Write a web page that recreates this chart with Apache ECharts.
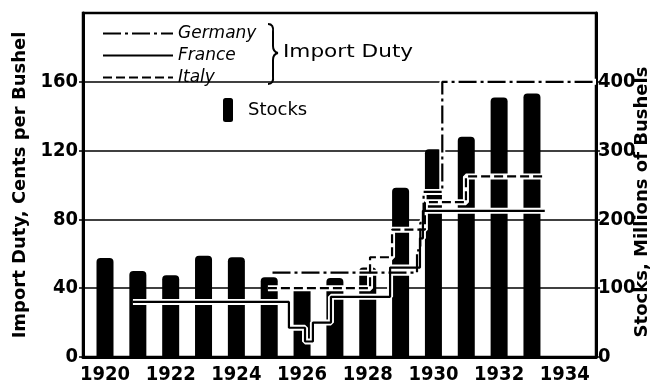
<!DOCTYPE html>
<html>
<head>
<meta charset="utf-8">
<script src="https://cdn.jsdelivr.net/npm/echarts@6/dist/echarts.min.js"></script>
<style>
  html, body { margin: 0; padding: 0; background: #fff; }
  #chart { width: 655px; height: 384px; }
</style>
</head>
<body>
<div id="chart"></div>
<script>
// Calendar-year tick labels along the bottom axis
const yearTicks = [1920, 1922, 1924, 1926, 1928, 1930, 1932, 1934];
const dutyTicks = [0, 40, 80, 120, 160];
const stockTicks = [0, 100, 200, 300, 400];

// Wheat stocks, millions of bushels
const stockYears = [1920, 1921, 1922, 1923, 1924, 1925, 1926, 1927, 1928, 1929, 1930, 1931, 1932, 1933];
const stockValues = [144, 125, 119, 147, 145, 116, 102, 115, 130, 246, 302, 320, 377, 383];

// Import duties, cents per bushel: each rate holds from its year until the next; last point closes the line
const germanyYears = [1925.1, 1929.5, 1929.6, 1929.7, 1930.27, 1934.95];
const germanyDuty  = [49, 62, 78, 96, 160, 160];
const franceYears  = [1920.85, 1925.6, 1926.09, 1926.33, 1926.88, 1928.68, 1929.59, 1929.68, 1933.39];
const franceDuty   = [32, 17, 9, 20, 35, 52, 69, 85, 85];
const italyYears   = [1924.96, 1928.07, 1928.74, 1929.74, 1930.99, 1933.39];
const italyDuty    = [40, 58, 74, 90, 105, 105];

const pairs = (xs, ys) => xs.map((x, i) => [x, ys[i]]);

const numFont = '"Liberation Sans Narrow", "DejaVu Sans Condensed", "DejaVu Sans", sans-serif';
const textFont = '"DejaVu Sans", sans-serif';

const dashDot = [18, 4, 3, 4];
const dashed = [9, 4];

function casing(name, xs, ys) {
  return {
    name: name, type: 'line', yAxisIndex: 0, step: 'end', silent: true,
    symbol: 'none', data: pairs(xs, ys),
    lineStyle: { color: '#fff', width: 6, type: 'solid', cap: 'butt' },
    z: 3
  };
}
function dutyLine(name, xs, ys, type) {
  return {
    name: name, type: 'line', yAxisIndex: 0, step: 'end', silent: true,
    symbol: 'none', showSymbol: false, data: pairs(xs, ys),
    itemStyle: { color: '#000' },
    lineStyle: { color: '#000', width: 2.2, type: type, cap: 'butt' },
    z: 4
  };
}

// Curly brace grouping the three duty entries
const braceStyle = { stroke: '#000', lineWidth: 2, fill: null };
const brace = [
  { type: 'bezierCurve', shape: { x1: 268, y1: 24, cpx1: 274, cpy1: 24, x2: 273, y2: 32 } },
  { type: 'line', shape: { x1: 273, y1: 32, x2: 273, y2: 46 } },
  { type: 'bezierCurve', shape: { x1: 273, y1: 46, cpx1: 273, cpy1: 52, x2: 278, y2: 53 } },
  { type: 'bezierCurve', shape: { x1: 278, y1: 53, cpx1: 273, cpy1: 54, x2: 273, y2: 60 } },
  { type: 'line', shape: { x1: 273, y1: 60, x2: 273, y2: 76 } },
  { type: 'bezierCurve', shape: { x1: 273, y1: 76, cpx1: 274, cpy1: 84, x2: 268, y2: 84 } }
].map(el => Object.assign(el, { silent: true, z: 10, style: braceStyle }));

const chart = echarts.init(document.getElementById('chart'), null, { renderer: 'canvas' });

chart.setOption({
  animation: false,
  backgroundColor: '#fff',
  grid: {
    left: 83, right: 59, top: 13, bottom: 27,
    outerBoundsMode: 'none', containLabel: false,
    show: true, borderColor: '#000', borderWidth: 2.5, backgroundColor: 'transparent'
  },
  legend: [
    {
      data: ['Germany', 'France', 'Italy'],
      orient: 'vertical', left: 102, top: 25, padding: 0,
      itemWidth: 70, itemHeight: 14, itemGap: 5,
      selectedMode: false,
      itemStyle: { opacity: 0 },
      textStyle: { fontFamily: textFont, fontStyle: 'italic', fontSize: 17, color: '#000' }
    },
    {
      data: ['Stocks'],
      left: 223, top: 98, padding: 0,
      icon: 'roundRect', itemWidth: 10, itemHeight: 24,
      selectedMode: false,
      itemStyle: { color: '#000' },
      textStyle: { fontFamily: textFont, fontSize: 18, color: '#000', padding: [0, 0, 0, 10] }
    }
  ],
  graphic: brace.concat([
    {
      type: 'text', left: 283, top: 43, silent: true, z: 10, scaleX: 1.2,
      style: { text: 'Import Duty', font: '18px ' + textFont, fill: '#000' }
    }
  ]),
  xAxis: {
    type: 'value', min: 1919.33, max: 1934.95,
    axisLine: { show: true, onZero: false, lineStyle: { color: '#000', width: 3 } },
    axisTick: { show: false },
    splitLine: { show: false },
    axisLabel: {
      customValues: yearTicks, margin: 8,
      formatter: v => String(v),
      fontFamily: numFont, fontSize: 20, fontWeight: 'bold', color: '#000'
    }
  },
  yAxis: [
    {
      type: 'value', min: 0, max: 200, interval: 40,
      name: 'Import Duty, Cents per Bushel', nameLocation: 'middle', nameGap: 54, nameRotate: 90,
      nameMoveOverlap: false,
      nameTextStyle: { fontFamily: textFont, fontWeight: 'bold', fontSize: 18, color: '#000' },
      axisLine: { show: true, lineStyle: { color: '#000', width: 3 } },
      axisTick: { show: true, length: 4, customValues: dutyTicks, lineStyle: { color: '#000', width: 1.5 } },
      splitLine: { show: true, lineStyle: { color: '#000', width: 1.5 } },
      axisLabel: {
        customValues: dutyTicks, margin: 5,
        formatter: v => String(v),
        fontFamily: numFont, fontSize: 20, fontWeight: 'bold', color: '#000'
      }
    },
    {
      type: 'value', min: 0, max: 500, interval: 100, position: 'right',
      name: 'Stocks, Millions of Bushels', nameLocation: 'middle', nameGap: 37, nameRotate: 90,
      nameMoveOverlap: false,
      nameTextStyle: { fontFamily: textFont, fontWeight: 'bold', fontSize: 18, color: '#000', padding: [0, 34, 0, 0] },
      axisLine: { show: true, lineStyle: { color: '#000', width: 3 } },
      axisTick: { show: true, length: 4, customValues: stockTicks, lineStyle: { color: '#000', width: 1.5 } },
      splitLine: { show: false },
      axisLabel: {
        customValues: stockTicks, margin: 2,
        formatter: v => String(v),
        fontFamily: numFont, fontSize: 20, fontWeight: 'bold', color: '#000'
      }
    }
  ],
  series: [
    {
      name: 'Stocks', type: 'bar', yAxisIndex: 1, barWidth: 17, silent: true,
      data: pairs(stockYears, stockValues),
      itemStyle: { color: '#000', borderRadius: [4, 4, 1, 1] },
      z: 2
    },
    casing('Germany casing', germanyYears, germanyDuty),
    casing('France casing', franceYears, franceDuty),
    casing('Italy casing', italyYears, italyDuty),
    dutyLine('Germany', germanyYears, germanyDuty, dashDot),
    dutyLine('France', franceYears, franceDuty, 'solid'),
    dutyLine('Italy', italyYears, italyDuty, dashed)
  ]
});
</script>
</body>
</html>
